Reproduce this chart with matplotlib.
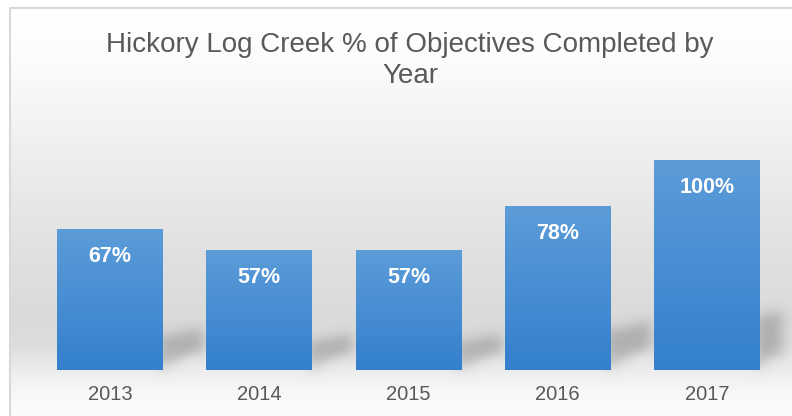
import numpy as np
import matplotlib
matplotlib.use("Agg")
import matplotlib.pyplot as plt
from matplotlib.colors import to_rgb
from matplotlib.patches import Polygon

years = ["2013", "2014", "2015", "2016", "2017"]
pct_completed = [67, 57, 57, 78, 100]
title = "Hickory Log Creek % of Objectives Completed by\nYear"

W, H, DPI = 792, 416, 100
plt.rcParams["font.family"] = ["Liberation Sans", "DejaVu Sans"]

fig = plt.figure(figsize=(W / DPI, H / DPI), dpi=DPI)
fig.patch.set_facecolor("white")

# ---- chart-area background: soft vertical grey gradient with a thin frame
bg = fig.add_axes([0, 0, 1, 1], zorder=-5)
bg.set_xlim(0, W)
bg.set_ylim(H, 0)
bg.axis("off")
stops_y = [7, 60, 150, 250, 320, 345, 370, 395, 416]
stops_v = [255, 252, 239, 225, 218, 221, 236, 249, 252]
rows = np.interp(np.arange(7, H + 1), stops_y, stops_v) / 255.0
grad = np.repeat(rows[:, None, None], 3, axis=2)
bg.imshow(grad, extent=(9.5, W + 2, H, 7), aspect="auto", interpolation="bilinear")
bg.plot([9.5, 9.5, W + 5], [H + 5, 7.5, 7.5], color="#d9d9d9", lw=1.5)

# ---- plot area
ax = fig.add_axes([35.4 / W, (H - 370) / H, (781.6 - 35.4) / W, (370 - 118) / H])
ax.patch.set_visible(False)
ax.set_xlim(-0.5, len(years) - 0.5)
ax.set_ylim(0, 120)
for s in ax.spines.values():
    s.set_visible(False)
ax.yaxis.set_visible(False)
ax.set_xticks(range(len(years)))
ax.set_xticklabels(years, fontsize=14.5, color="#595959")
ax.tick_params(axis="x", length=0, pad=10.5)


def gaussian_blur(sigma):
    def _filter(im, dpi):
        pad = int(3 * sigma) + 1
        src = np.pad(im, ((pad, pad), (pad, pad), (0, 0)))
        k = np.exp(-0.5 * (np.arange(-pad, pad + 1) / sigma) ** 2)
        k /= k.sum()
        tmp = np.zeros_like(src)
        for i, w in enumerate(k):
            tmp += w * np.roll(src, i - pad, axis=0)
        out = np.zeros_like(src)
        for i, w in enumerate(k):
            out += w * np.roll(tmp, i - pad, axis=1)
        return out, -pad, -pad
    return _filter


bar_w = 0.71
x = np.arange(len(years))
bars = ax.bar(x, pct_completed, width=bar_w, color="none", edgecolor="none", zorder=3)

# perspective drop shadows cast toward the back-right of each bar
for xi, v in zip(x, pct_completed):
    xr = xi + bar_w / 2
    shadow = Polygon(
        [(xr - 0.03, 0.0), (xr - 0.03, 0.26 * v), (xr + 0.27, 0.30 * v), (xr + 0.27, 0.12 * v)],
        closed=True, facecolor="black", edgecolor="none", alpha=0.2, zorder=1,
    )
    shadow.set_agg_filter(gaussian_blur(6))
    ax.add_patch(shadow)

# bars filled with a light-to-dark blue gradient
top_c = np.array(to_rgb("#5c9cd8"))
bot_c = np.array(to_rgb("#3480cd"))
t = np.linspace(0, 1, 256)[:, None]
bar_grad = (bot_c * (1 - t) + top_c * t)[:, None, :]
for patch in bars:
    x0, y0 = patch.get_x(), patch.get_y()
    im = ax.imshow(bar_grad, extent=(x0, x0 + patch.get_width(), y0, y0 + patch.get_height()),
                   origin="lower", aspect="auto", interpolation="bilinear", zorder=3)
    im.set_clip_path(patch)

for xi, v in zip(x, pct_completed):
    ax.annotate(f"{v}%", (xi, v), xytext=(0, -19.5), textcoords="offset points",
                ha="center", va="center", fontsize=15.5, fontweight="bold", color="white", zorder=5)

fig.text(410 / W, 1 - 60.5 / H, title, ha="center", va="center", multialignment="center",
         fontsize=20, color="#595959", linespacing=1.25)

fig.savefig("out.png", dpi=DPI)
